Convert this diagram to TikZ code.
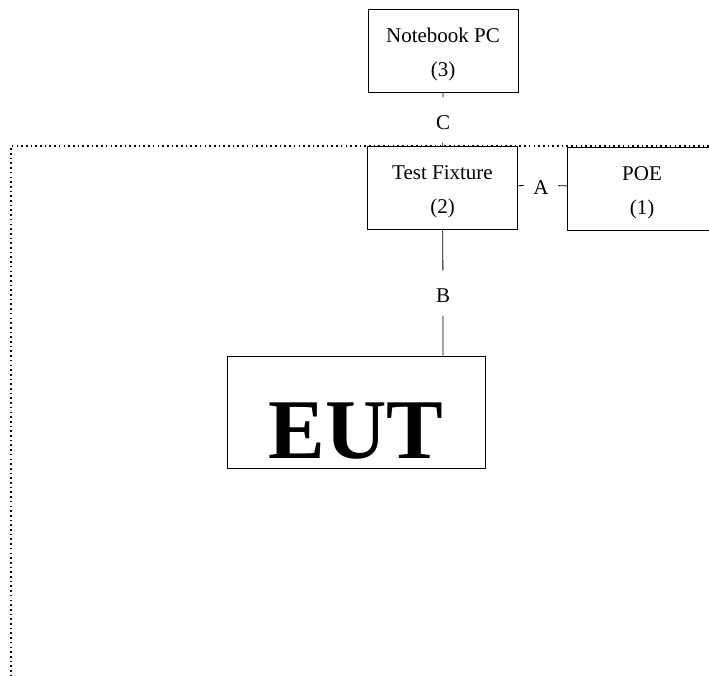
\documentclass[tikz,border=0pt]{standalone}
\usepackage{fontspec}
\setmainfont{Liberation Serif}
\newcommand{\unitstrut}{\rule{0pt}{22pt}}
\begin{document}
\begin{tikzpicture}[x=1pt, y=-1pt,
    unit/.style={draw, line width=0.8pt, minimum width=150pt, minimum height=83pt,
        inner sep=0pt, align=center, font=\fontsize{21}{34}\selectfont},
    eutbox/.style={draw, line width=0.8pt, minimum width=258pt, minimum height=112pt,
        inner sep=0pt, text height=92pt, text depth=0pt, font=\fontsize{85}{90}\selectfont\bfseries},
    cable/.style={line width=0.8pt},
    lbl/.style={inner xsep=9.5pt, inner ysep=13pt, text height=19pt, text depth=0pt,
        font=\fontsize{21}{24}\selectfont},
    dotline/.style={line width=1.6pt, dash pattern=on 1.6pt off 3.1pt}]%% setup
    \useasboundingbox (0,0) rectangle (709,675);
    \clip (0,0) rectangle (709,675);


        \draw[dotline] (709,146) -- (11,146) -- (11,675);


        \node[unit] (nb) at (443,50.5) {\unitstrut Notebook PC\\(3)};
        \node[unit] (tf) at (442.5,188) {\unitstrut Test Fixture\\(2)};
        \node[unit] (poe) at (642,188.5) {\unitstrut POE\\(1)};
        \node[eutbox] (eut) at (356,412) {EUT};


        \node[lbl] (c) at (443,120) {C};
        \node[lbl] (a) at (541,185) {A};
        \node[lbl] (b) at (443,293) {B};


            \draw[cable] (nb) -- (c) -- (tf);
            \draw[cable] (tf) -- (a) -- (poe);
            \draw[cable] (tf) -- (b) -- (eut.north -| b);

\end{tikzpicture}
\end{document}
